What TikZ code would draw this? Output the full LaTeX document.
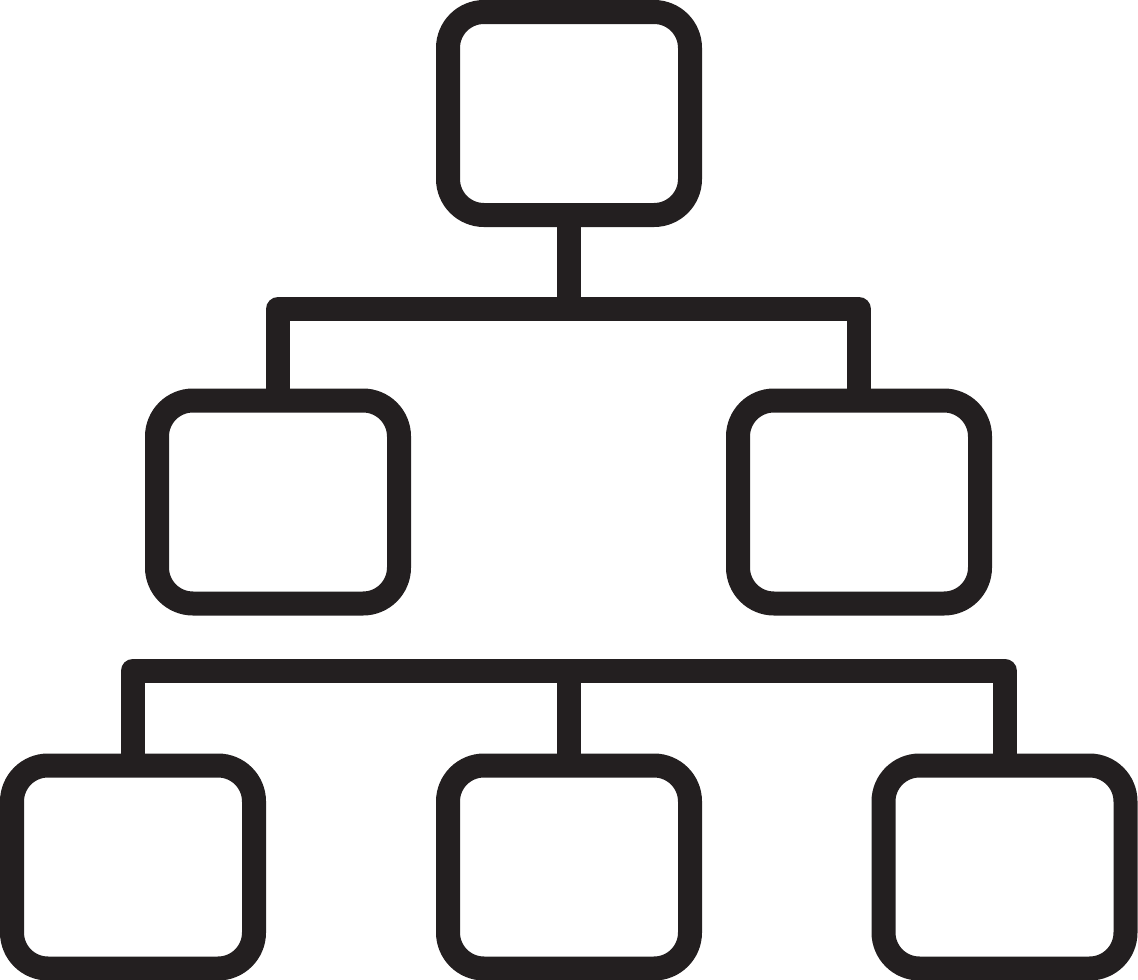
\documentclass[tikz,border=0pt]{standalone}
\definecolor{ink}{RGB}{35,31,32}
\begin{document}
\begin{tikzpicture}[x=1pt,y=-1pt,
  box/.style={draw=ink,line width=24pt,rounded corners=36pt,inner sep=0pt,
    minimum width=242pt,minimum height=203pt},
  conn/.style={draw=ink,line width=24pt,line join=round}]
\useasboundingbox (0,0) rectangle (1138,980);
\node[box] (top) at (569,113.5) {};
\node[box] (ml) at (278,502) {};
\node[box] (mr) at (859,502) {};
\node[box] (bl) at (133,867) {};
\node[box] (bm) at (569,867) {};
\node[box] (br) at (1004.5,867) {};
\coordinate (j1) at (569,309);
\coordinate (j2) at (569,670.5);
\draw[conn] (ml.north) |- (j1) -| (mr.north);
\draw[conn] (top.south) -- (j1);
\draw[conn] (bl.north) |- (j2) -| (br.north);
\draw[conn] (bm.north) -- (j2);
\end{tikzpicture}
\end{document}
